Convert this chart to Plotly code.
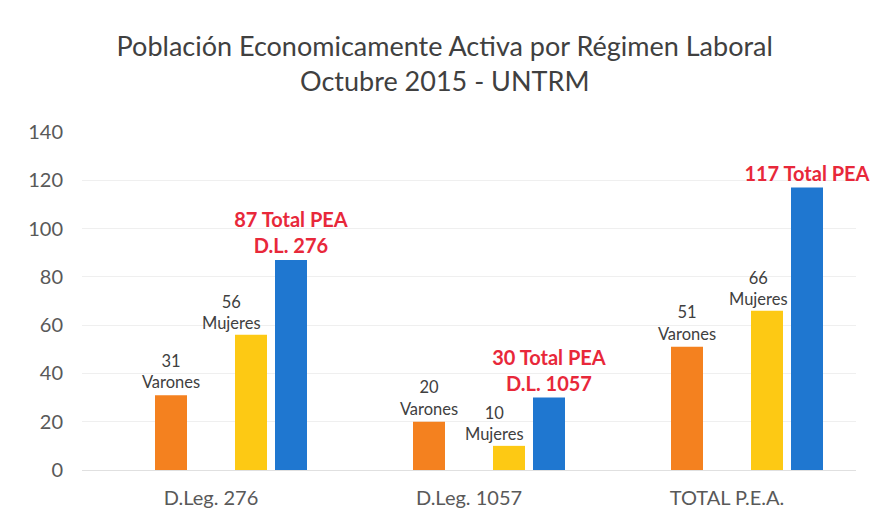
import plotly.graph_objects as go

categories = ["D.Leg. 276", "D.Leg. 1057", "TOTAL P.E.A."]
varones = [31, 20, 51]
mujeres = [56, 10, 66]
total = [87, 30, 117]
varones_text = [f"{v}<br>Varones" for v in varones]
mujeres_text = [f"{v}<br>Mujeres" for v in mujeres]
total_sub = ["D.L. 276", "D.L. 1057", ""]
total_text = [f"{v} Total PEA" + (f"<br>{s}" if s else "") for v, s in zip(total, total_sub)]
# manual leftward nudge (px) of the "Mujeres" labels, as in the original
mujeres_nudge = [-20, -15, -9]

W = 32 / 258
FONT = "Lato"
fig = go.Figure()
fig.add_bar(x=categories, y=varones, text=varones_text, marker_color="#f4811f",
            width=W, offset=(-40 - 16) / 258, textposition="outside",
            textfont=dict(family=FONT, size=16.5, color="#404040"))
fig.add_bar(x=categories, y=mujeres, marker_color="#fdc914",
            width=W, offset=(40 - 16) / 258)
fig.add_bar(x=categories, y=total, text=total_text, marker_color="#1f77d0",
            width=W, offset=(80 - 16) / 258, textposition="outside",
            textfont=dict(family=FONT, size=20, color="#e8283a", weight="bold"))
fig.update_traces(constraintext="none", cliponaxis=False, marker_line_width=0)

for c, v, t, n in zip(categories, mujeres, mujeres_text, mujeres_nudge):
    fig.add_annotation(x=c, y=v, text=t, showarrow=False, xanchor="center", yanchor="bottom",
                       xshift=40 + n, yshift=0,
                       font=dict(family=FONT, size=16.5, color="#404040"))

fig.update_layout(
    width=872, height=525,
    barmode="overlay",
    showlegend=False,
    paper_bgcolor="white", plot_bgcolor="white",
    margin=dict(l=82, r=16, t=132, b=55),
    title=dict(text="Población Economicamente Activa por Régimen Laboral<br>Octubre 2015 - UNTRM",
               xref="container", x=0.51, xanchor="center",
               yref="container", y=1 - 56 / 525, yanchor="top",
               font=dict(family=FONT, size=27, color="#404040")),
    font=dict(family=FONT),
)
fig.update_yaxes(range=[0, 140], dtick=20, showgrid=True, gridcolor="#efefef",
                 zeroline=False, showline=False, ticks="",
                 tickfont=dict(family=FONT, size=20, color="#595959"), ticklabelstandoff=18)
fig.update_xaxes(showline=True, linecolor="#e0e0e0", ticks="",
                 tickfont=dict(family=FONT, size=20, color="#595959"), ticklabelstandoff=10)

fig.write_html("out.html")
